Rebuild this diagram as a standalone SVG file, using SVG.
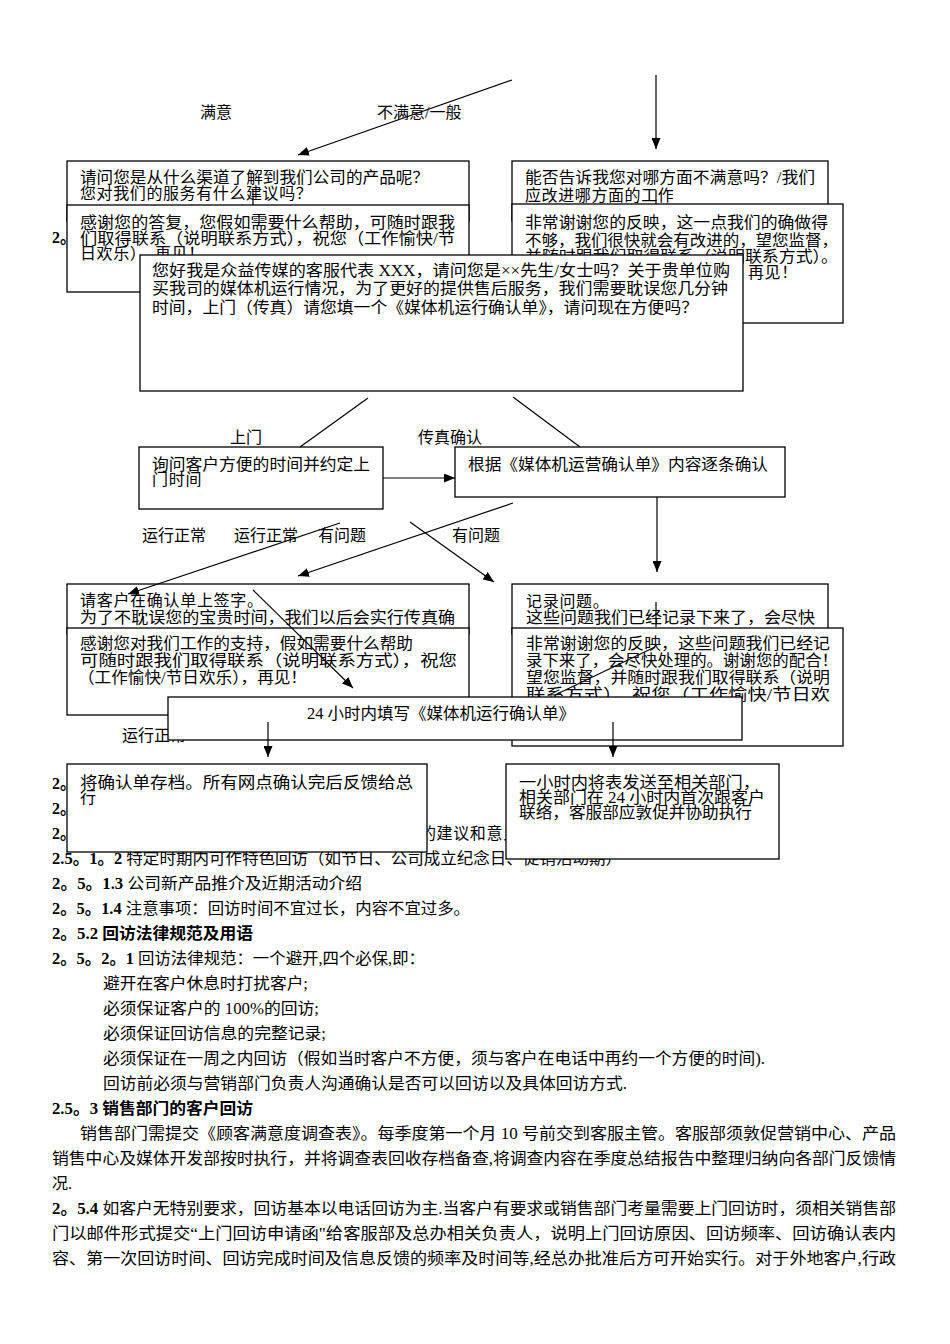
<svg xmlns="http://www.w3.org/2000/svg" width="950" height="1344" viewBox="0 0 950 1344">
<style>
.t{font-family:'Liberation Serif','Noto Sans CJK SC',serif;font-size:16px;fill:#000}
.b{font-weight:bold}
.box{fill:#fff;stroke:#000;stroke-width:1.3}
.ln{stroke:#000;stroke-width:1.2;fill:none}
.ar{stroke:#000;stroke-width:1.2;fill:none;marker-end:url(#ah)}
</style>
<defs>
<marker id="ah" viewBox="0 0 11 9" refX="11" refY="4.5" markerWidth="11" markerHeight="9" markerUnits="userSpaceOnUse" orient="auto"><path d="M0,0 L11,4.5 L0,9 z" fill="#000"/></marker>
</defs>
<rect width="950" height="1344" fill="#fff"/>

<g id="body-text" class="t">
<text x="52" y="243" class="b">2。</text>
<text x="52" y="789" class="b">2。</text>
<text x="52" y="814" class="b">2。</text>
<text x="52" y="839" class="b">2。</text>
<text x="420" y="839" letter-spacing="0.6">的建议和意见</text>
<text x="52" y="864" textLength="570" lengthAdjust="spacingAndGlyphs"><tspan class="b">2.5。1。2</tspan> 特定时期内可作特色回访（如节日、公司成立纪念日、促销活动期）</text>
<text x="52" y="889" textLength="310" lengthAdjust="spacingAndGlyphs"><tspan class="b">2。5。1.3</tspan> 公司新产品推介及近期活动介绍</text>
<text x="52" y="914" textLength="418" lengthAdjust="spacingAndGlyphs"><tspan class="b">2。5。1.4</tspan> 注意事项：回访时间不宜过长，内容不宜过多。</text>
<text x="52" y="939" class="b" textLength="201" lengthAdjust="spacingAndGlyphs">2。5.2 回访法律规范及用语</text>
<text x="52" y="964" textLength="373" lengthAdjust="spacingAndGlyphs"><tspan class="b">2。5。2。1</tspan> 回访法律规范：一个避开,四个必保,即：</text>
<text x="103" y="989" textLength="205" lengthAdjust="spacingAndGlyphs">避开在客户休息时打扰客户;</text>
<text x="103" y="1014" textLength="216" lengthAdjust="spacingAndGlyphs">必须保证客户的 100%的回访;</text>
<text x="103" y="1039" textLength="223" lengthAdjust="spacingAndGlyphs">必须保证回访信息的完整记录;</text>
<text x="103" y="1064" textLength="662" lengthAdjust="spacingAndGlyphs">必须保证在一周之内回访（假如当时客户不方便，须与客户在电话中再约一个方便的时间).</text>
<text x="103" y="1089" textLength="524" lengthAdjust="spacingAndGlyphs">回访前必须与营销部门负责人沟通确认是否可以回访以及具体回访方式.</text>
<text x="52" y="1114" class="b" textLength="201" lengthAdjust="spacingAndGlyphs">2.5。3 销售部门的客户回访</text>
<text x="80" y="1139" textLength="816" lengthAdjust="spacingAndGlyphs">销售部门需提交《顾客满意度调查表》。每季度第一个月 10 号前交到客服主管。客服部须敦促营销中心、产品</text>
<text x="52" y="1164" textLength="844" lengthAdjust="spacingAndGlyphs">销售中心及媒体开发部按时执行，并将调查表回收存档备查,将调查内容在季度总结报告中整理归纳向各部门反馈情</text>
<text x="52" y="1189">况.</text>
<text x="52" y="1214" textLength="844" lengthAdjust="spacingAndGlyphs"><tspan class="b">2。5.4</tspan> 如客户无特别要求，回访基本以电话回访为主.当客户有要求或销售部门考量需要上门回访时，须相关销售部</text>
<text x="52" y="1239" textLength="844" lengthAdjust="spacingAndGlyphs">门以邮件形式提交“上门回访申请函"给客服部及总办相关负责人，说明上门回访原因、回访频率、回访确认表内</text>
<text x="52" y="1264" textLength="844" lengthAdjust="spacingAndGlyphs">容、第一次回访时间、回访完成时间及信息反馈的频率及时间等,经总办批准后方可开始实行。对于外地客户,行政</text>
</g>

<g id="labels" class="t">
<text x="200" y="118">满意</text>
<text x="377" y="118">不满意/一般</text>
<text x="230" y="443">上门</text>
<text x="418" y="443">传真确认</text>
<text x="142" y="541">运行正常</text>
<text x="234" y="541">运行正常</text>
<text x="318" y="541">有问题</text>
<text x="452" y="541">有问题</text>
<text x="122" y="741">运行正常</text>
</g>

<g id="node-ask-channel">
<rect class="box" x="67" y="161" width="402" height="60"/>
<text class="t" x="80" y="183" textLength="349" lengthAdjust="spacingAndGlyphs">请问您是从什么渠道了解到我们公司的产品呢？</text>
<text class="t" x="80" y="199" letter-spacing="0.6">您对我们的服务有什么建议吗？</text>
</g>
<g id="node-ask-unsatisfied">
<rect class="box" x="512" y="161" width="316" height="60"/>
<text class="t" x="525" y="183" textLength="290" lengthAdjust="spacingAndGlyphs">能否告诉我您对哪方面不满意吗？/我们</text>
<text class="t" x="525" y="201" letter-spacing="0.6">应改进哪方面的工作</text>
</g>
<g id="node-thanks-answer">
<rect class="box" x="67" y="205" width="402" height="87"/>
<text class="t" x="80" y="228" textLength="375" lengthAdjust="spacingAndGlyphs">感谢您的答复，您假如需要什么帮助，可随时跟我</text>
<text class="t" x="80" y="244" textLength="375" lengthAdjust="spacingAndGlyphs">们取得联系（说明联系方式），祝您（工作愉快/节</text>
<text class="t" x="80" y="259" letter-spacing="0.6">日欢乐），再见！</text>
</g>
<g id="node-thanks-feedback">
<rect class="box" x="512" y="204" width="331" height="119"/>
<text class="t" x="525" y="228" textLength="303" lengthAdjust="spacingAndGlyphs">非常谢谢您的反映，这一点我们的确做得</text>
<text class="t" x="525" y="246" textLength="313" lengthAdjust="spacingAndGlyphs">不够，我们很快就会有改进的，望您监督，</text>
<text class="t" x="525" y="262" textLength="313" lengthAdjust="spacingAndGlyphs">并随时跟我们取得联系（说明联系方式）。</text>
<text class="t" x="748" y="278" letter-spacing="0.6">再见！</text>
</g>
<g id="node-greeting">
<rect class="box" x="140" y="255" width="603" height="136"/>
<text class="t" x="152" y="276" textLength="578" lengthAdjust="spacingAndGlyphs">您好我是众益传媒的客服代表 XXX，请问您是××先生/女士吗？关于贵单位购</text>
<text class="t" x="152" y="294" textLength="576" lengthAdjust="spacingAndGlyphs">买我司的媒体机运行情况，为了更好的提供售后服务，我们需要耽误您几分钟</text>
<text class="t" x="152" y="313" textLength="546" lengthAdjust="spacingAndGlyphs">时间，上门（传真）请您填一个《媒体机运行确认单》，请问现在方便吗？</text>
</g>
<g id="node-visit-time">
<rect class="box" x="139" y="447" width="244" height="62"/>
<text class="t" x="152" y="470" textLength="218" lengthAdjust="spacingAndGlyphs">询问客户方便的时间并约定上</text>
<text class="t" x="152" y="485" letter-spacing="0.7">门时间</text>
</g>
<g id="node-confirm-items">
<rect class="box" x="455" y="447" width="330" height="50"/>
<text class="t" x="468" y="470" textLength="300" lengthAdjust="spacingAndGlyphs">根据《媒体机运营确认单》内容逐条确认</text>
</g>
<g id="node-sign">
<rect class="box" x="67" y="584" width="402" height="50"/>
<text class="t" x="80" y="606" letter-spacing="0.7">请客户在确认单上签字。</text>
<text class="t" x="80" y="623" textLength="375" lengthAdjust="spacingAndGlyphs">为了不耽误您的宝贵时间，我们以后会实行传真确</text>
</g>
<g id="node-record">
<rect class="box" x="512" y="584" width="316" height="50"/>
<text class="t" x="526" y="607" letter-spacing="0.7">记录问题。</text>
<text class="t" x="526" y="623" textLength="289" lengthAdjust="spacingAndGlyphs">这些问题我们已经记录下来了，会尽快</text>
</g>
<g id="node-thanks-support">
<rect class="box" x="67" y="628" width="402" height="87"/>
<text class="t" x="80" y="649" textLength="333" lengthAdjust="spacingAndGlyphs">感谢您对我们工作的支持，假如需要什么帮助</text>
<text class="t" x="80" y="666" textLength="377" lengthAdjust="spacingAndGlyphs">可随时跟我们取得联系（说明联系方式），祝您</text>
<text class="t" x="78" y="683" textLength="229" lengthAdjust="spacingAndGlyphs">（工作愉快/节日欢乐），再见！</text>
</g>
<g id="node-thanks-problem">
<rect class="box" x="512" y="628" width="331" height="118"/>
<text class="t" x="526" y="649" textLength="304" lengthAdjust="spacingAndGlyphs">非常谢谢您的反映，这些问题我们已经记</text>
<text class="t" x="526" y="666" textLength="312" lengthAdjust="spacingAndGlyphs">录下来了，会尽快处理的。谢谢您的配合！</text>
<text class="t" x="526" y="683" textLength="304" lengthAdjust="spacingAndGlyphs">望您监督，并随时跟我们取得联系（说明</text>
<text class="t" x="526" y="700" textLength="304" lengthAdjust="spacingAndGlyphs">联系方式），祝您（工作愉快/节日欢</text>
</g>
<g id="node-fill-form">
<rect class="box" x="168" y="697" width="574" height="43"/>
<text class="t" x="307" y="719" textLength="268" lengthAdjust="spacingAndGlyphs">24 小时内填写《媒体机运行确认单》</text>
</g>
<g id="node-archive">
<rect class="box" x="67" y="764" width="360" height="88"/>
<text class="t" x="80" y="788" textLength="333" lengthAdjust="spacingAndGlyphs">将确认单存档。所有网点确认完后反馈给总</text>
<text class="t" x="80" y="803">行</text>
</g>
<g id="node-send-dept">
<rect class="box" x="506" y="764" width="273" height="95"/>
<text class="t" x="519" y="788" textLength="241" lengthAdjust="spacingAndGlyphs">一小时内将表发送至相关部门，</text>
<text class="t" x="519" y="803" textLength="246" lengthAdjust="spacingAndGlyphs">相关部门在 24 小时内首次跟客户</text>
<text class="t" x="519" y="818" textLength="233" lengthAdjust="spacingAndGlyphs">联络，客服部应敦促并协助执行</text>
</g>

<g id="connectors">
<line class="ar" x1="512" y1="80" x2="298" y2="155"/>
<line class="ar" x1="656" y1="75" x2="656" y2="149"/>
<line class="ln" x1="253" y1="190" x2="253" y2="205"/>
<line class="ln" x1="656" y1="190" x2="656" y2="204"/>
<line class="ln" x1="368" y1="398" x2="300" y2="447"/>
<line class="ln" x1="513" y1="397" x2="580" y2="447"/>
<line class="ar" x1="383" y1="478" x2="455" y2="478"/>
<line class="ar" x1="657" y1="497" x2="657" y2="572"/>
<line class="ar" x1="340" y1="523" x2="128" y2="594"/>
<line class="ar" x1="513" y1="503" x2="298" y2="576"/>
<line class="ar" x1="410" y1="522" x2="494" y2="582"/>
<line class="ar" x1="253" y1="590" x2="353" y2="688"/>
<line class="ln" x1="656" y1="602" x2="656" y2="627"/>
<line class="ln" x1="555" y1="695" x2="655" y2="647"/>
<line class="ar" x1="268" y1="722" x2="268" y2="757"/>
<line class="ar" x1="613" y1="722" x2="613" y2="757"/>
</g>
</svg>
